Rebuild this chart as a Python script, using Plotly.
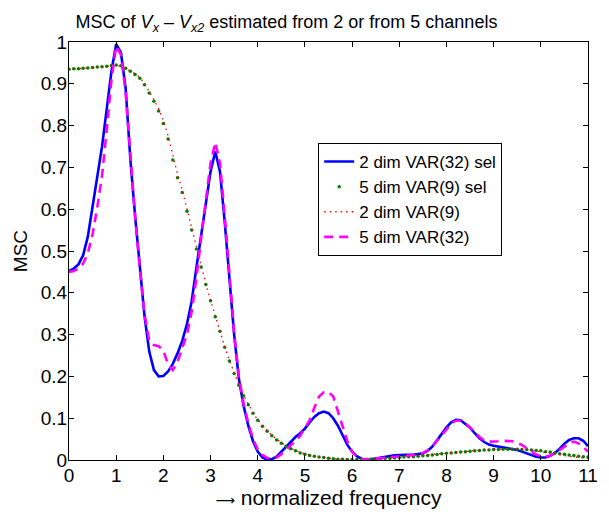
import numpy as np
import plotly.graph_objects as go

# frequency grid (normalized frequency, step 0.1 from 0 to 11)
freq = np.round(np.arange(0, 11.0001, 0.1), 1)

msc_2dim_var32_sel = [
    0.452, 0.458, 0.468, 0.490, 0.535, 0.605, 0.675, 0.750, 0.840, 0.930,
    0.995, 0.975, 0.890, 0.720, 0.585, 0.460, 0.345, 0.260, 0.215, 0.200,
    0.201, 0.212, 0.230, 0.255, 0.285, 0.325, 0.380, 0.460, 0.535, 0.615,
    0.690, 0.738, 0.690, 0.570, 0.430, 0.300, 0.195, 0.130, 0.082, 0.045,
    0.020, 0.006, 0.001, 0.002, 0.008, 0.020, 0.033, 0.045, 0.055, 0.064,
    0.075, 0.090, 0.103, 0.112, 0.116, 0.112, 0.100, 0.082, 0.058, 0.036,
    0.020, 0.009, 0.003, 0.001, 0.002, 0.004, 0.006, 0.008, 0.010, 0.011,
    0.012, 0.012, 0.012, 0.013, 0.014, 0.016, 0.022, 0.032, 0.047, 0.063,
    0.078, 0.090, 0.096, 0.095, 0.087, 0.077, 0.064, 0.052, 0.043, 0.037,
    0.034, 0.032, 0.031, 0.029, 0.027, 0.024, 0.020, 0.016, 0.012, 0.008,
    0.006, 0.006, 0.010, 0.017, 0.027, 0.039, 0.048, 0.052, 0.052, 0.046,
    0.033,
]

msc_5dim_var9_sel = [
    0.935, 0.936, 0.936, 0.937, 0.938, 0.939, 0.940, 0.941, 0.942, 0.944,
    0.945, 0.943, 0.937, 0.930, 0.922, 0.913, 0.898, 0.878, 0.858, 0.835,
    0.805, 0.768, 0.718, 0.675, 0.640, 0.595, 0.550, 0.505, 0.462, 0.420,
    0.381, 0.343, 0.308, 0.270, 0.237, 0.207, 0.179, 0.154, 0.132, 0.112,
    0.095, 0.081, 0.069, 0.058, 0.048, 0.040, 0.033, 0.027, 0.022, 0.017,
    0.014, 0.011, 0.009, 0.007, 0.006, 0.004, 0.003, 0.002, 0.002, 0.001,
    0.001, 0.001, 0.001, 0.002, 0.002, 0.002, 0.003, 0.004, 0.004, 0.005,
    0.006, 0.007, 0.008, 0.008, 0.009, 0.010, 0.011, 0.012, 0.013, 0.015,
    0.016, 0.017, 0.018, 0.019, 0.020, 0.021, 0.022, 0.023, 0.024, 0.024,
    0.025, 0.025, 0.026, 0.026, 0.026, 0.026, 0.025, 0.025, 0.024, 0.023,
    0.022, 0.020, 0.019, 0.017, 0.015, 0.014, 0.012, 0.011, 0.009, 0.008,
    0.007,
]

msc_2dim_var9 = [
    0.934, 0.935, 0.936, 0.937, 0.938, 0.939, 0.940, 0.941, 0.942, 0.943,
    0.944, 0.942, 0.937, 0.931, 0.924, 0.915, 0.901, 0.882, 0.862, 0.840,
    0.812, 0.776, 0.728, 0.684, 0.646, 0.600, 0.553, 0.507, 0.463, 0.421,
    0.382, 0.344, 0.308, 0.271, 0.238, 0.208, 0.180, 0.155, 0.133, 0.113,
    0.096, 0.082, 0.070, 0.059, 0.049, 0.041, 0.034, 0.028, 0.023, 0.018,
    0.015, 0.012, 0.009, 0.007, 0.006, 0.004, 0.003, 0.002, 0.002, 0.001,
    0.001, 0.001, 0.001, 0.002, 0.002, 0.002, 0.003, 0.004, 0.004, 0.005,
    0.006, 0.007, 0.008, 0.009, 0.010, 0.011, 0.012, 0.013, 0.014, 0.015,
    0.016, 0.017, 0.018, 0.019, 0.020, 0.021, 0.022, 0.023, 0.024, 0.025,
    0.026, 0.026, 0.027, 0.027, 0.027, 0.027, 0.026, 0.025, 0.024, 0.022,
    0.020, 0.018, 0.016, 0.014, 0.012, 0.010, 0.008, 0.007, 0.006, 0.005,
    0.004,
]

msc_5dim_var32 = [
    0.450, 0.452, 0.458, 0.470, 0.495, 0.540, 0.605, 0.680, 0.790, 0.910,
    0.990, 0.970, 0.880, 0.725, 0.585, 0.460, 0.350, 0.285, 0.275, 0.272,
    0.262, 0.228, 0.215, 0.235, 0.265, 0.300, 0.355, 0.435, 0.530, 0.625,
    0.710, 0.760, 0.710, 0.585, 0.435, 0.305, 0.200, 0.135, 0.088, 0.050,
    0.025, 0.012, 0.005, 0.003, 0.006, 0.014, 0.025, 0.035, 0.045, 0.058,
    0.075, 0.095, 0.125, 0.152, 0.162, 0.163, 0.152, 0.118, 0.080, 0.045,
    0.020, 0.008, 0.002, 0.001, 0.002, 0.003, 0.004, 0.005, 0.006, 0.008,
    0.009, 0.010, 0.011, 0.012, 0.014, 0.017, 0.023, 0.033, 0.046, 0.060,
    0.074, 0.087, 0.094, 0.094, 0.088, 0.078, 0.067, 0.055, 0.047, 0.044,
    0.044, 0.045, 0.046, 0.046, 0.045, 0.041, 0.036, 0.028, 0.020, 0.013,
    0.009, 0.008, 0.010, 0.016, 0.024, 0.032, 0.040, 0.044, 0.040, 0.031,
    0.020,
]

x_ticks = list(range(0, 12))
y_ticks = [round(0.1 * i, 1) for i in range(0, 11)]

FONT = "Liberation Sans, Arial, Helvetica, sans-serif"

fig = go.Figure()
fig.add_trace(go.Scatter(
    x=freq, y=msc_2dim_var32_sel, mode="lines", name="2 dim VAR(32) sel",
    line=dict(color="#0000ff", width=2.6),
))
fig.add_trace(go.Scatter(
    x=freq, y=msc_5dim_var9_sel, mode="markers", name="5 dim VAR(9) sel",
    marker=dict(color="#007f00", size=3.5),
))
fig.add_trace(go.Scatter(
    x=freq, y=msc_2dim_var9, mode="lines", name="2 dim VAR(9)",
    line=dict(color="#ff0000", width=1.3, dash="1.5px,4px"),
))
fig.add_trace(go.Scatter(
    x=freq, y=msc_5dim_var32, mode="lines", name="5 dim VAR(32)",
    line=dict(color="#ff00ff", width=2.6, dash="9px,6px"),
))

axis_common = dict(
    showline=True, linecolor="black", linewidth=1, mirror="allticks",
    ticks="inside", ticklen=5, tickcolor="black", tickwidth=1,
    showgrid=False, zeroline=False,
    tickfont=dict(family=FONT, size=19, color="black"),
)

fig.update_layout(
    width=609, height=516,
    margin=dict(l=69, r=11, t=42, b=56),
    paper_bgcolor="white", plot_bgcolor="white",
    font=dict(family=FONT, size=19, color="black"),
    title=dict(
        text="MSC of <i>V</i><sub><i>x</i></sub> – <i>V</i><sub><i>x2</i></sub> estimated from 2 or from 5 channels",
        x=286.5 / 609, xref="container", xanchor="center",
        y=1 - 22 / 516, yref="container", yanchor="middle",
        font=dict(family=FONT, size=18, color="black"),
    ),
    xaxis=dict(range=[0, 11], tickvals=x_ticks, ticklabelstandoff=-2,
               title=dict(text="<span style='font-family:DejaVu Sans;font-size:13.5px'>⟶</span> normalized frequency",
                          standoff=4, font=dict(family=FONT, size=21)),
               **axis_common),
    yaxis=dict(range=[0, 1], tickvals=y_ticks, ticklabelstandoff=-3,
               title=dict(text="MSC", standoff=8,
                          font=dict(family=FONT, size=19)),
               **axis_common),
    legend=dict(
        x=(323 - 69) / 529, y=(460 - 143) / 418, xanchor="left", yanchor="top",
        bgcolor="white", bordercolor="black", borderwidth=1,
        font=dict(family=FONT, size=17, color="black"),
        itemwidth=30, tracegroupgap=0,
    ),
    showlegend=True,
)

fig.write_html("out.html", config={"displayModeBar": False},
               post_script="document.body.style.margin='0';")
